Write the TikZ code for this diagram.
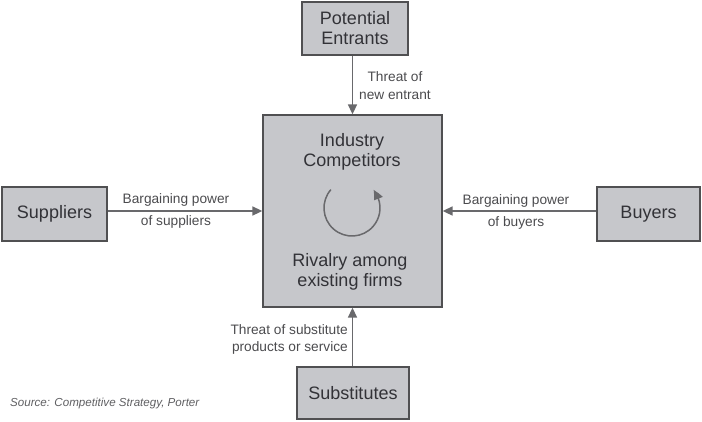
\documentclass[tikz,border=0pt]{standalone}
\usepackage{fontspec}
\setmainfont{Liberation Sans}
\usetikzlibrary{arrows.meta,bending}
\definecolor{boxfill}{RGB}{198,199,203}
\definecolor{boxline}{RGB}{80,80,82}
\definecolor{boxtext}{RGB}{50,50,55}
\definecolor{labtext}{RGB}{75,75,78}
\definecolor{arrowc}{RGB}{105,105,108}
\definecolor{srctext}{RGB}{95,95,98}
\begin{document}
\begin{tikzpicture}[x=1pt,y=1pt,
  box/.style={draw=boxline, line width=1.3pt, fill=boxfill, text=boxtext,
    font=\fontsize{18}{20}\selectfont, align=center, inner sep=0pt},
  boxtxt/.style={text=boxtext, font=\fontsize{18}{20}\selectfont, align=center, inner sep=0pt},
  lab/.style={text=labtext, align=center, inner sep=0pt},
  conn/.style={draw=arrowc, line width=1.6pt, -{Triangle[length=10pt,width=9pt]}}]
\useasboundingbox (0,0) rectangle (702,-421);
% boxes
\node[box, minimum width=106pt, minimum height=53pt] (pe) at (355,-28.5) {Potential\\Entrants};
\node[box, minimum width=179pt, minimum height=192pt] (c) at (352.5,-211) {};
\node[box, minimum width=105pt, minimum height=54pt] (sup) at (54.5,-214) {Suppliers};
\node[box, minimum width=103pt, minimum height=54pt] (buy) at (648.5,-214) {Buyers};
\node[box, minimum width=112pt, minimum height=52pt] (sub) at (353,-393) {Substitutes};
% central texts
\node[boxtxt] (ind) at (352,-151.5) {Industry\\Competitors};
\node[boxtxt] (riv) at (350,-272) {Rivalry among\\existing firms};
% rivalry cycle
\coordinate (cc) at (352,-208);
\draw[conn, line width=1.5pt, -{Triangle[length=10pt,width=9pt,bend]}] (cc) ++(139:28) arc[start angle=139, end angle=400, radius=28];
% connectors
\draw[conn] (pe.south -| c.north) -- (c.north);
\draw[conn] (sup.east |- c.west) -- (c.west);
\draw[conn] (buy.west |- c.east) -- (c.east);
\draw[conn] (sub.north -| c.south) -- (c.south);
% labels
\node[lab, font=\fontsize{13.7}{18}\selectfont] (l1) at (395,-86) {Threat of\\new entrant};
\node[lab, font=\fontsize{13.7}{22}\selectfont] (l2) at (176,-211) {Bargaining power\\of suppliers};
\node[lab, font=\fontsize{13.7}{22}\selectfont] (l3) at (516,-211.5) {Bargaining power\\of buyers};
\node[lab, align=right, anchor=east, font=\fontsize{13.7}{17}\selectfont] (l4) at (348,-339.5) {Threat of substitute\\products or service};
\node[anchor=west, inner sep=0pt, text=srctext, font=\fontsize{11.6}{14}\selectfont\itshape] (src) at (10,-403) {Source: Competitive Strategy, Porter};
\end{tikzpicture}
\end{document}
